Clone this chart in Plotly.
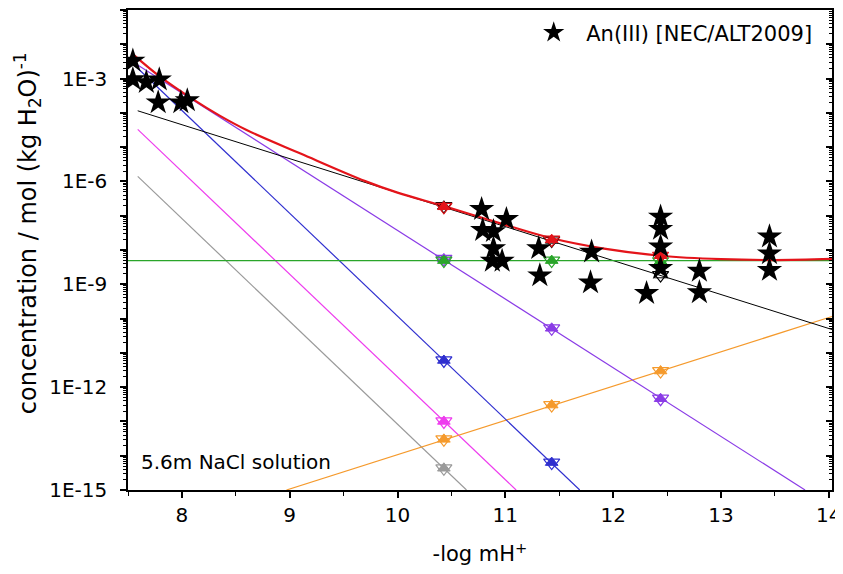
import plotly.graph_objects as go

# ---- data ----
# total solubility (red curve)
red_x = [7.56, 7.8, 8.1, 8.35, 8.6, 9.1, 9.7, 10.0, 10.43, 11.0, 11.43, 11.9, 12.44, 13.0, 13.5, 14.03]
red_y = [4.68e-3, 1.12e-3, 2.51e-4, 8.3e-5, 3.16e-5, 6.5e-6, 1.02e-6, 4.7e-7, 1.9e-7, 5.4e-8,
         2.2e-8, 1.12e-8, 6.8e-9, 5.4e-9, 5.1e-9, 5.5e-9]

# species lines (endpoints)
black_x = [7.59, 14.03];  black_y = [1.15e-4, 4.8e-11]
green_x = [7.5, 14.03];   green_y = [4.9e-9, 4.9e-9]
purple_x = [7.59, 13.78]; purple_y = [2.5e-3, 1e-15]
blue_x = [7.59, 11.69];  blue_y = [2.0e-3, 1e-15]
magenta_x = [7.59, 11.10]; magenta_y = [3.3e-5, 1e-15]
gray_x = [7.59, 10.64];  gray_y = [1.4e-6, 1e-15]
orange_x = [8.97, 14.03]; orange_y = [1e-15, 1.15e-10]

# calculated points (markers)
mk_red_x = [10.43, 11.43, 12.44];    mk_red_y = [1.82e-7, 2.0e-8, 6.8e-9]
mk_green_x = [10.43, 11.43, 12.44];  mk_green_y = [4.9e-9, 4.9e-9, 4.7e-9]
mk_black_x = [10.43, 11.43, 12.44];  mk_black_y = [1.9e-7, 1.9e-8, 1.86e-9]
mk_purple_x = [10.43, 11.43, 12.44]; mk_purple_y = [5.5e-9, 5.2e-11, 4.6e-13]
mk_blue_x = [10.43, 11.43];          mk_blue_y = [6.0e-12, 6.3e-15]
mk_magenta_x = [10.43];              mk_magenta_y = [1.0e-13]
mk_orange_x = [10.43, 11.43, 12.44]; mk_orange_y = [3.0e-14, 3.0e-13, 2.95e-12]
mk_gray_x = [10.43];                 mk_gray_y = [4.3e-15]

# experimental data An(III) [NEC/ALT2009]
star_x = [7.545, 7.545, 7.67, 7.79, 7.78, 7.99, 8.05,
          10.78, 11.01, 10.79, 10.89, 10.89, 10.88, 10.97, 11.31, 11.32,
          11.80, 11.79, 12.44, 12.44, 12.44, 12.44, 12.31, 12.80, 12.80,
          13.45, 13.45, 13.45]
star_y = [3.3e-3, 9.5e-4, 7.8e-4, 9.3e-4, 2.0e-4, 2.0e-4, 2.3e-4,
          1.55e-7, 7.9e-8, 3.8e-8, 3.5e-8, 1.12e-8, 4.8e-9, 4.8e-9, 1.12e-8, 1.8e-9,
          8.9e-9, 1.12e-9, 9.3e-8, 4.1e-8, 1.26e-8, 2.95e-9, 5.5e-10, 2.45e-9, 5.8e-10,
          2.45e-8, 7.9e-9, 2.6e-9]

y_major = [10.0 ** e for e in range(-15, 0)]
y_labels = {-3: "1E-3", -6: "1E-6", -9: "1E-9", -12: "1E-12", -15: "1E-15"}
y_text = [y_labels.get(e, "") for e in range(-15, 0)]
y_minor = [m * 10.0 ** e for e in range(-15, -1) for m in range(2, 10)]

FONT = "DejaVu Sans, Arial, sans-serif"

fig = go.Figure()

species = [
    (gray_x, gray_y, "#9a9a9a", 1.2),
    (magenta_x, magenta_y, "#ee3cee", 1.2),
    (orange_x, orange_y, "#f59a2c", 1.2),
    (blue_x, blue_y, "#2f2fcf", 1.2),
    (purple_x, purple_y, "#8a3be6", 1.2),
    (black_x, black_y, "#000000", 1.0),
    (green_x, green_y, "#2aa52a", 1.2),
]

for lx, ly, col, w in species:
    fig.add_trace(go.Scatter(x=lx, y=ly, mode="lines", line=dict(color=col, width=w),
                             showlegend=False, hoverinfo="skip"))

fig.add_trace(go.Scatter(x=red_x, y=red_y, mode="lines", line=dict(color="#e4141a", width=2.2, shape="spline"),
                         showlegend=False, hoverinfo="skip"))

marker_sets = [
    (mk_gray_x, mk_gray_y, "#9a9a9a"),
    (mk_magenta_x, mk_magenta_y, "#ee3cee"),
    (mk_orange_x, mk_orange_y, "#f59a2c"),
    (mk_blue_x, mk_blue_y, "#2f2fcf"),
    (mk_purple_x, mk_purple_y, "#8a3be6"),
    (mk_black_x, mk_black_y, "#000000"),
    (mk_green_x, mk_green_y, "#2aa52a"),
    (mk_red_x, mk_red_y, "#e4141a"),
]
for mx, my, col in marker_sets:
    filled = col != "#000000"
    fig.add_trace(go.Scatter(x=mx, y=my, mode="markers",
                             marker=dict(symbol="triangle-down-open", size=14, color=col,
                                         line=dict(color=col, width=1.2)),
                             showlegend=False, hoverinfo="skip"))
    fig.add_trace(go.Scatter(x=mx, y=my, mode="markers",
                             marker=dict(symbol="triangle-up" if filled else "triangle-up-open", size=11,
                                         color=col, line=dict(color=col, width=1)),
                             showlegend=False, hoverinfo="skip"))

fig.add_trace(go.Scatter(x=star_x, y=star_y, mode="markers", name="An(III) [NEC/ALT2009]",
                         marker=dict(symbol="star", size=19, color="black", line=dict(width=0)),
                         showlegend=True))

# dummy trace for the right-hand mirrored axis
fig.add_trace(go.Scatter(x=[7.5], y=[1e-5], yaxis="y2", mode="none", showlegend=False, hoverinfo="skip"))

fig.add_annotation(text="5.6m NaCl solution", xref="paper", yref="paper", x=0.016, y=0.058,
                   xanchor="left", yanchor="middle", showarrow=False,
                   font=dict(family=FONT, size=20, color="black"))

# y-axis title (placed as rotated text, slightly above the axis centre as in the original)
fig.add_annotation(text="concentration / mol (kg H<sub>2</sub>O)<sup>-1</sup>",
                   xref="paper", yref="paper", x=-0.1435, y=0.535, textangle=-90,
                   xanchor="center", yanchor="middle", showarrow=False,
                   font=dict(family=FONT, size=24, color="black"))

# page body adds an 8 px margin; plot area kept at the reference position
fig.update_layout(
    width=843, height=566,
    margin=dict(l=120, r=19, t=0, b=84),
    paper_bgcolor="white", plot_bgcolor="white",
    font=dict(family=FONT, size=20, color="black"),
    legend=dict(x=0.979, y=0.995, xanchor="right", yanchor="top", bgcolor="rgba(0,0,0,0)",
                font=dict(family=FONT, size=21), itemwidth=55),
    xaxis=dict(range=[7.5, 14.03], showgrid=False, zeroline=False,
               showline=True, linecolor="black", linewidth=1.5, mirror=True,
               ticks="outside", ticklen=6, tickwidth=1.5, tickcolor="black",
               tickvals=[8, 9, 10, 11, 12, 13, 14], ticklabeloverflow="allow",
               minor=dict(tickvals=[7.5, 8.5, 9.5, 10.5, 11.5, 12.5, 13.5], ticks="outside",
                          ticklen=4, tickwidth=1.2, tickcolor="black"),
               tickfont=dict(size=20),
               title=dict(text="-log mH<sup>+</sup>", font=dict(size=21), standoff=21)),
    yaxis=dict(type="log", range=[-15, -1], showgrid=False, zeroline=False,
               showline=True, linecolor="black", linewidth=1.5,
               ticks="outside", ticklen=6, tickwidth=1.5, tickcolor="black",
               tickmode="array", tickvals=y_major, ticktext=y_text, ticklabelstandoff=9,
               minor=dict(tickmode="array", tickvals=y_minor, ticks="outside",
                          ticklen=3, tickwidth=1, tickcolor="black"),
               tickfont=dict(size=20)),
    yaxis2=dict(type="log", range=[-15, -1], overlaying="y", side="right", showgrid=False,
                zeroline=False, showline=True, linecolor="black", linewidth=1.5,
                ticks="inside", ticklen=6, tickwidth=1.5, tickcolor="black",
                tickmode="array", tickvals=y_major, showticklabels=False,
                minor=dict(tickmode="array", tickvals=y_minor, ticks="inside",
                           ticklen=3, tickwidth=1, tickcolor="black")),
)

fig.write_html("out.html")
